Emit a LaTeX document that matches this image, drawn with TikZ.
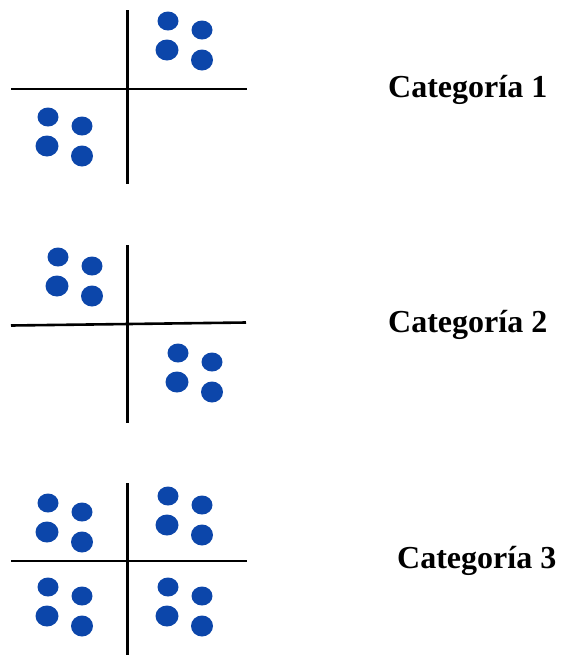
\documentclass[tikz,border=0pt]{standalone}
\usepackage{fontspec}
\setmainfont{Liberation Serif}
\definecolor{dotblue}{RGB}{12,70,170}
\begin{document}
\begin{tikzpicture}[x=1pt,y=-1pt,
  axis/.style={line width=2.6pt,black},
  lbl/.style={anchor=base west,inner sep=0pt,font=\fontsize{32}{38}\selectfont\bfseries},
  cluster/.pic={
    \fill[dotblue] (0,0) ellipse [x radius=10.5,y radius=9.5];
    \fill[dotblue] (34,9) ellipse [x radius=10.5,y radius=9.5];
    \fill[dotblue] (-1,29) ellipse [x radius=11.5,y radius=10.5];
    \fill[dotblue] (34,39) ellipse [x radius=11,y radius=10.5];
  }]
\useasboundingbox (0,0) rectangle (566,657);
% Panel 1
\draw[axis] (127.5,10) -- (127.5,184);
\draw[axis] (11,89) -- (247,89);
\pic at (168,21) {cluster};
\pic at (48,117) {cluster};
\node[lbl] (c1) at (388,97) {Categoría 1};
% Panel 2
\draw[axis] (127.5,245) -- (127.5,423);
\draw[axis] (11,325.5) -- (246,322.5);
\pic at (58,257) {cluster};
\pic at (178,353) {cluster};
\node[lbl] (c2) at (388,332) {Categoría 2};
% Panel 3
\draw[axis] (127.5,483) -- (127.5,655);
\draw[axis] (11,561) -- (247,561);
\pic at (48,503) {cluster};
\pic at (168,496) {cluster};
\pic at (48,587) {cluster};
\pic at (168,587) {cluster};
\node[lbl] (c3) at (397,568) {Categoría 3};
\end{tikzpicture}
\end{document}
